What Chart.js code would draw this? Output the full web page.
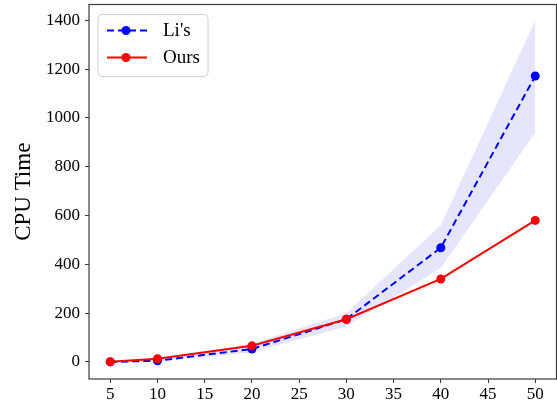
<!DOCTYPE html>
<html lang="en">
<head>
    <meta charset="UTF-8">
    <title>CPU Time</title>
    <script src="https://cdn.jsdelivr.net/npm/chart.js"></script>
    <style>
        html, body { margin: 0; padding: 0; background: #fff; overflow: hidden; }
        canvas { display: block; }
    </style>
</head>
<body>
    <!-- a few px wider than the window so the right spine lands at the edge -->
    <canvas id="cpuChart" width="561" height="408"></canvas>

    <script>
        // data
        const xValues = [5, 10, 20, 30, 40, 50];
        const lisTime = [0, 5, 53, 175, 468, 1172];
        const oursTime = [1, 13, 66, 175, 340, 580];
        const lisUpper = [2, 10, 75, 200, 560, 1400];
        const lisLower = [0, 2, 40, 145, 385, 940];
        const xTicks = [5, 10, 15, 20, 25, 30, 35, 40, 45, 50];
        const yTicks = [0, 200, 400, 600, 800, 1000, 1200, 1400];

        const serif = "'Liberation Serif', 'Times New Roman', serif";
        const spineColor = '#3a3a3a';

        function pts(ys) {
            return xValues.map((x, i) => ({ x: x, y: ys[i] }));
        }

        // box around the plot + legend in the upper left
        const frameAndLegend = {
            id: 'frameAndLegend',
            afterDraw(chart) {
                const ctx = chart.ctx;
                const a = chart.chartArea;
                ctx.save();
                ctx.strokeStyle = spineColor;
                ctx.lineWidth = 1.2;
                ctx.strokeRect(a.left, a.top, a.right - a.left, a.bottom - a.top);

                // legend, Li's first like the original
                const items = chart.data.datasets.filter(d => d.showInLegend).reverse();
                const bx = a.left + 9, by = a.top + 10, bw = 110, bh = 62;
                ctx.beginPath();
                ctx.roundRect(bx, by, bw, bh, 4);
                ctx.fillStyle = 'rgba(255,255,255,0.8)';
                ctx.fill();
                ctx.strokeStyle = '#d0d0d0';
                ctx.lineWidth = 1;
                ctx.stroke();

                items.forEach((d, i) => {
                    const y = by + 16 + i * 27;
                    ctx.beginPath();
                    ctx.strokeStyle = d.borderColor;
                    ctx.lineWidth = 2;
                    ctx.setLineDash(d.borderDash || []);
                    ctx.moveTo(bx + 9, y);
                    ctx.lineTo(bx + 49, y);
                    ctx.stroke();
                    ctx.setLineDash([]);
                    ctx.beginPath();
                    ctx.arc(bx + 28, y, 4.5, 0, Math.PI * 2);
                    ctx.fillStyle = d.borderColor;
                    ctx.fill();
                    ctx.fillStyle = '#000';
                    ctx.font = '19px ' + serif;
                    ctx.textBaseline = 'middle';
                    ctx.fillText(d.label, bx + 65, y + 1);
                });
                ctx.restore();
            }
        };

        new Chart(document.getElementById('cpuChart'), {
            type: 'line',
            data: {
                datasets: [
                    {
                        label: 'Ours',
                        showInLegend: true,
                        data: pts(oursTime),
                        borderColor: '#ff0000',
                        backgroundColor: '#ff0000',
                        borderWidth: 2,
                        pointRadius: 4.5,
                        pointBorderWidth: 0,
                        fill: false,
                        order: 0
                    },
                    {
                        label: "Li's",
                        showInLegend: true,
                        data: pts(lisTime),
                        borderColor: '#0000ff',
                        backgroundColor: '#0000ff',
                        borderWidth: 2,
                        borderDash: [7, 4],
                        pointRadius: 4.5,
                        pointBorderWidth: 0,
                        fill: false,
                        order: 1
                    },
                    {
                        label: 'upper',
                        data: pts(lisUpper),
                        borderWidth: 0,
                        pointRadius: 0,
                        backgroundColor: 'rgba(20,20,230,0.11)',
                        fill: '+1',
                        order: 2
                    },
                    {
                        label: 'lower',
                        data: pts(lisLower),
                        borderWidth: 0,
                        pointRadius: 0,
                        fill: false,
                        order: 3
                    }
                ]
            },
            options: {
                responsive: false,
                animation: false,
                layout: { padding: { top: 1, right: 0, left: 0, bottom: 0 } },
                plugins: {
                    legend: { display: false },
                    tooltip: { enabled: false }
                },
                scales: {
                    x: {
                        type: 'linear',
                        min: 2.75,
                        max: 52.25,
                        afterBuildTicks: s => { s.ticks = xTicks.map(v => ({ value: v })); },
                        afterFit: s => {
                            s.height = 29;
                            s.paddingLeft = s.paddingRight = 0;
                        },
                        grid: { drawOnChartArea: false, tickLength: 4, tickColor: spineColor },
                        border: { display: false },
                        ticks: {
                            font: { family: serif, size: 17 }, color: '#000', padding: 1, maxRotation: 0,
                            callback: v => String(v)
                        }
                    },
                    y: {
                        min: -70,
                        max: 1465,
                        afterBuildTicks: s => { s.ticks = yTicks.map(v => ({ value: v })); },
                        afterFit: s => {
                            s.width = 89;
                            s.paddingTop = s.paddingBottom = 0;
                        },
                        grid: { drawOnChartArea: false, tickLength: 4, tickColor: spineColor },
                        border: { display: false },
                        ticks: {
                            font: { family: serif, size: 17 }, color: '#000', padding: 5,
                            callback: v => String(v)
                        },
                        title: {
                            display: true,
                            text: 'CPU Time',
                            color: '#000',
                            font: { family: serif, size: 23 },
                            padding: { top: 10, bottom: 0 }
                        }
                    }
                }
            },
            plugins: [frameAndLegend]
        });
    </script>
</body>
</html>
